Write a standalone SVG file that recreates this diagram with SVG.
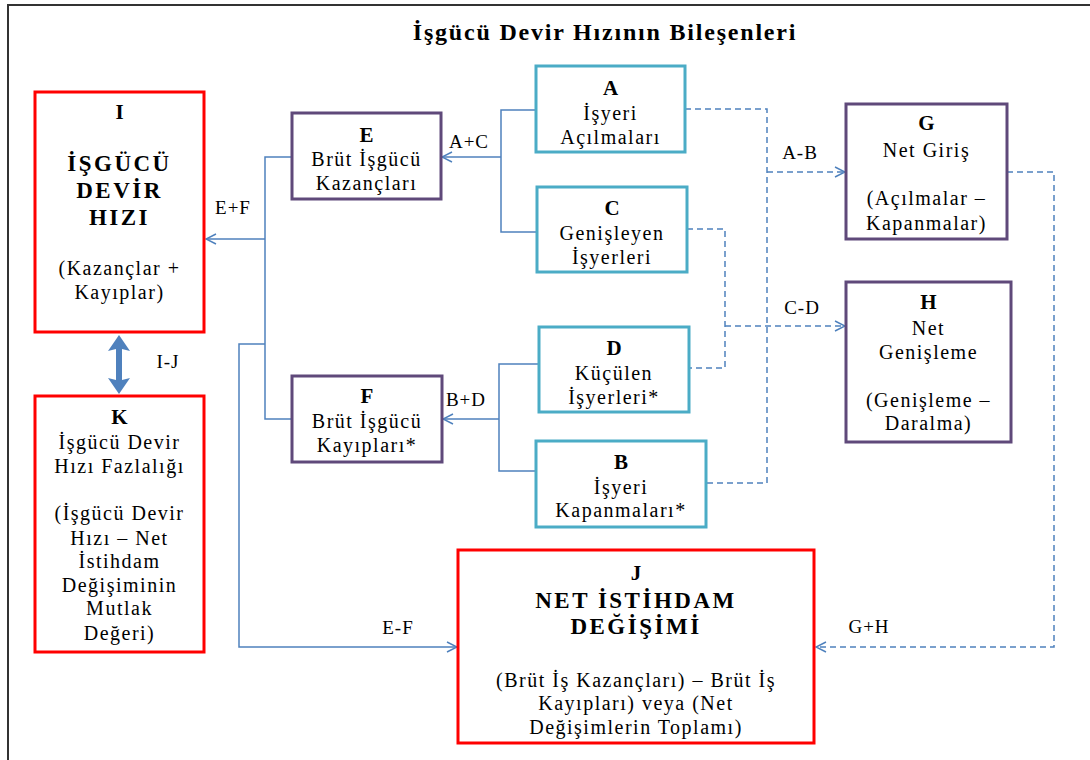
<svg xmlns="http://www.w3.org/2000/svg" width="1090" height="760" viewBox="0 0 1090 760">
<style>
text{font-family:"Liberation Serif","Times New Roman",serif;fill:#000;text-anchor:middle}
.t{font-size:20px;letter-spacing:1.5px}
.h{font-size:21px;font-weight:bold}
.hb{font-size:23px;font-weight:bold;letter-spacing:2.5px}
.lbl{font-size:19px;letter-spacing:1px}
.red{fill:#fff;stroke:#FF0000;stroke-width:3}
.pur{fill:#fff;stroke:#5F497A;stroke-width:3}
.teal{fill:#fff;stroke:#4BACC6;stroke-width:3}
.c{fill:none;stroke:#4F81BD;stroke-width:1.5}
.d{fill:none;stroke:#4F81BD;stroke-width:1.5;stroke-dasharray:6,4}
</style>
<defs>
<marker id="open" viewBox="0 0 12 12" refX="11" refY="6" markerWidth="12" markerHeight="12" markerUnits="userSpaceOnUse" orient="auto">
<path d="M1,1 L11,6 L1,11" fill="none" stroke="#4F81BD" stroke-width="1.5"/>
</marker>
</defs>
<rect width="1090" height="760" fill="#fff"/>
<path d="M8,760 L8,5 L1090,5" fill="none" stroke="#333" stroke-width="2"/>
<text x="605" y="40" style="font-size:24px;font-weight:bold;letter-spacing:1.8px">İşgücü Devir Hızının Bileşenleri</text>

<g id="connectors">
<path class="c" d="M536,110 H501 V232 H537"/>
<path class="c" d="M501,157 H442" marker-end="url(#open)"/>
<path class="c" d="M292,157 H265 V419 H292"/>
<path class="c" d="M265,239 H206" marker-end="url(#open)"/>
<path class="c" d="M539,364 H499 V471 H536"/>
<path class="c" d="M499,419 H443" marker-end="url(#open)"/>
<path class="c" d="M265,344 H239 V647 H457" marker-end="url(#open)"/>
<path class="d" d="M685,109 H767 V483 H706"/>
<path class="d" d="M767,172 H845" marker-end="url(#open)"/>
<path class="d" d="M687,229 H725 V368 H689"/>
<path class="d" d="M725,326 H845" marker-end="url(#open)"/>
<path class="d" d="M1007,172 H1054 V647 H816" marker-end="url(#open)"/>
<path d="M119,335 L130,351 L122,349 L122,380 L130,378 L119,394 L108,378 L116,380 L116,349 L108,351 Z" fill="#4F81BD"/>
<text class="lbl" x="469" y="148">A+C</text>
<text class="lbl" x="233" y="214">E+F</text>
<text class="lbl" x="466" y="406">B+D</text>
<text class="lbl" x="800" y="159">A-B</text>
<text class="lbl" x="802" y="314">C-D</text>
<text class="lbl" x="168" y="368">I-J</text>
<text class="lbl" x="398" y="634">E-F</text>
<text class="lbl" x="869" y="633">G+H</text>
</g>

<g id="node-I">
<rect class="red" x="35" y="92" width="169" height="240"/>
<text class="h" x="119.5" y="119">I</text>
<text class="hb" x="119.5" y="171">İŞGÜCÜ</text>
<text class="hb" x="119.5" y="198">DEVİR</text>
<text class="hb" x="119.5" y="225">HIZI</text>
<text class="t" x="119.5" y="275">(Kazançlar +</text>
<text class="t" x="119.5" y="299">Kayıplar)</text>
</g>

<g id="node-K">
<rect class="red" x="35" y="396" width="169" height="256"/>
<text class="h" x="119.5" y="424">K</text>
<text class="t" x="119.5" y="449">İşgücü Devir</text>
<text class="t" x="119.5" y="473">Hızı Fazlalığı</text>
<text class="t" x="119.5" y="520">(İşgücü Devir</text>
<text class="t" x="119.5" y="545">Hızı – Net</text>
<text class="t" x="119.5" y="568">İstihdam</text>
<text class="t" x="119.5" y="592">Değişiminin</text>
<text class="t" x="119.5" y="615">Mutlak</text>
<text class="t" x="119.5" y="640">Değeri)</text>
</g>

<g id="node-E">
<rect class="pur" x="292" y="113" width="149" height="86"/>
<text class="h" x="366.5" y="142">E</text>
<text class="t" x="366.5" y="166">Brüt İşgücü</text>
<text class="t" x="366.5" y="190">Kazançları</text>
</g>

<g id="node-F">
<rect class="pur" x="292" y="376" width="150" height="86"/>
<text class="h" x="367" y="403">F</text>
<text class="t" x="367" y="428">Brüt İşgücü</text>
<text class="t" x="367" y="452">Kayıpları*</text>
</g>

<g id="node-A">
<rect class="teal" x="536" y="66" width="149" height="86"/>
<text class="h" x="610.5" y="95">A</text>
<text class="t" x="610.5" y="120">İşyeri</text>
<text class="t" x="610.5" y="144">Açılmaları</text>
</g>

<g id="node-C">
<rect class="teal" x="537" y="187" width="150" height="85"/>
<text class="h" x="612" y="215">C</text>
<text class="t" x="612" y="240">Genişleyen</text>
<text class="t" x="612" y="264">İşyerleri</text>
</g>

<g id="node-D">
<rect class="teal" x="539" y="327" width="150" height="85"/>
<text class="h" x="614" y="355">D</text>
<text class="t" x="614" y="380">Küçülen</text>
<text class="t" x="614" y="404">İşyerleri*</text>
</g>

<g id="node-B">
<rect class="teal" x="536" y="441" width="170" height="86"/>
<text class="h" x="621" y="469">B</text>
<text class="t" x="621" y="494">İşyeri</text>
<text class="t" x="621" y="517">Kapanmaları*</text>
</g>

<g id="node-G">
<rect class="pur" x="846" y="104" width="161" height="135"/>
<text class="h" x="926.5" y="130">G</text>
<text class="t" x="926.5" y="157">Net Giriş</text>
<text class="t" x="926.5" y="205">(Açılmalar –</text>
<text class="t" x="926.5" y="230">Kapanmalar)</text>
</g>

<g id="node-H">
<rect class="pur" x="846" y="282" width="165" height="160"/>
<text class="h" x="928.5" y="309">H</text>
<text class="t" x="928.5" y="335">Net</text>
<text class="t" x="928.5" y="359">Genişleme</text>
<text class="t" x="928.5" y="407">(Genişleme –</text>
<text class="t" x="928.5" y="430">Daralma)</text>
</g>

<g id="node-J">
<rect class="red" x="458" y="550" width="356" height="193"/>
<text class="h" x="636" y="580">J</text>
<text class="hb" x="636" y="608">NET İSTİHDAM</text>
<text class="hb" x="636" y="634">DEĞİŞİMİ</text>
<text class="t" x="636" y="687">(Brüt İş Kazançları) – Brüt İş</text>
<text class="t" x="636" y="710">Kayıpları) veya (Net</text>
<text class="t" x="636" y="734">Değişimlerin Toplamı)</text>
</g>
</svg>
